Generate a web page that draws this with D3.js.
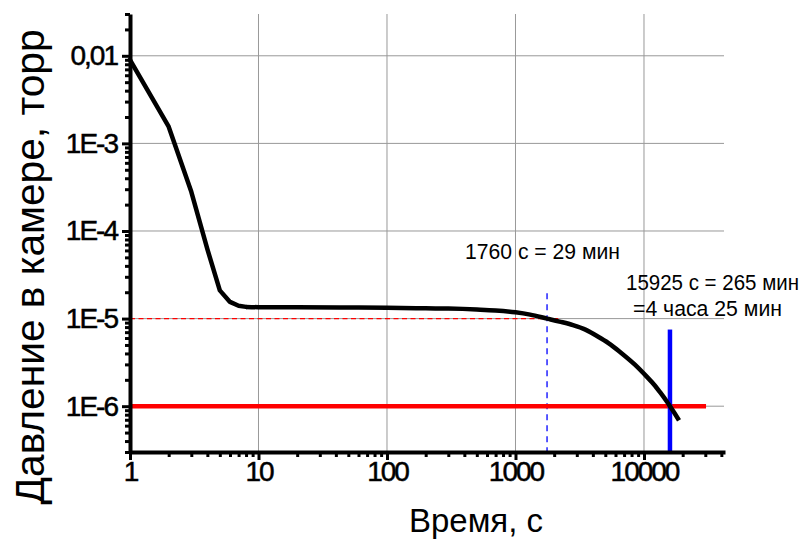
<!DOCTYPE html>
<html>
  <head>
    <meta charset="utf-8">
    <script src="https://cdn.jsdelivr.net/npm/d3@7/dist/d3.min.js"></script>
    <style>
      body { margin: 0; background: #fff; }
      text { font-family: "Liberation Sans", Arial, sans-serif; fill: #000; }
      .tick text { font-size: 28px; letter-spacing: -2px; stroke: #000; stroke-width: 0.5px; }
      .note { font-size: 21.5px; }
    </style>
  </head>
  <body>
    <script>
      // время, с
      var times = [1, 2, 3, 4, 5, 6, 7, 8, 10, 20, 50, 100, 200, 300, 500,
                   700, 1000, 1300, 1760, 2200, 2800, 3500, 4545, 5500, 6500,
                   8500, 10550, 12000, 13330, 15000, 15925, 17500, 18720];
      // давление, торр
      var pressure = [9e-3, 1.55e-3, 2.8e-4, 6.2e-5, 2.1e-5, 1.55e-5, 1.4e-5,
                      1.36e-5, 1.35e-5, 1.35e-5, 1.34e-5, 1.33e-5, 1.31e-5,
                      1.3e-5, 1.27e-5, 1.24e-5, 1.18e-5, 1.11e-5, 1.0e-5,
                      9.25e-6, 8.43e-6, 7.49e-6, 6.04e-6, 5.05e-6, 4.17e-6,
                      2.98e-6, 2.16e-6, 1.76e-6, 1.445e-6, 1.14e-6, 1.0e-6,
                      8.1e-7, 6.9e-7];
      // до 8 с точки соединены прямыми, дальше плавная кривая
      var splitIndex = 7;

      var xTicks = [1, 10, 100, 1000, 10000];
      var xTickLabels = ["1", "10", "100", "1000", "10000"];
      var yTicks = [1e-2, 1e-3, 1e-4, 1e-5, 1e-6];
      var yTickLabels = ["0,01", "1E-3", "1E-4", "1E-5", "1E-6"];

      // отметки: 1E-5 при 1760 с, 1E-6 при 15925 с
      var mark1 = {t: 1760, p: 1e-5, tEnd: 2150, pTop: 1.95e-5};
      var mark2 = {t: 15925, p: 1e-6, tEnd: 30400, pTop: 7.5e-6};

      var width = 808;
      var height = 544;

      var x = d3.scaleLog().domain([1, 4.27e4]).range([130, 725]);
      var y = d3.scaleLog().domain([3e-7, 3e-2]).range([452, 14]);

      var svg = d3.select("body").append("svg")
                  .attr("width", width)
                  .attr("height", height);

      // minor ticks
      var xMinor = [];
      for (var e = 0; e <= 4; e++) {
        for (var m = 2; m <= 9; m++) {
          var v = m * Math.pow(10, e);
          if (v <= x.domain()[1]) xMinor.push(v);
        }
      }
      var yMinor = [];
      for (var e = -7; e <= -2; e++) {
        for (var m = 2; m <= 9; m++) {
          var v = m * Math.pow(10, e);
          if (v >= y.domain()[0] && v <= y.domain()[1]) yMinor.push(v);
        }
      }

      // grid
      svg.append("g").selectAll("line")
         .data(xTicks.slice(1))
         .enter().append("line")
         .attr("x1", function(d) { return x(d); })
         .attr("x2", function(d) { return x(d); })
         .attr("y1", y.range()[1])
         .attr("y2", y.range()[0])
         .attr("stroke", "#999")
         .attr("stroke-width", 1);
      svg.append("g").selectAll("line")
         .data(yTicks)
         .enter().append("line")
         .attr("x1", x.range()[0])
         .attr("x2", x.range()[1] - 1)
         .attr("y1", function(d) { return y(d); })
         .attr("y2", function(d) { return y(d); })
         .attr("stroke", "#999")
         .attr("stroke-width", 1);

      // dashed guides at 1E-5
      svg.append("line")
         .attr("x1", x(1)).attr("x2", x(mark1.tEnd))
         .attr("y1", y(mark1.p)).attr("y2", y(mark1.p))
         .attr("stroke", "red").attr("stroke-width", 1.3)
         .attr("stroke-dasharray", "5,3.5");
      svg.append("line")
         .attr("x1", x(mark1.t)).attr("x2", x(mark1.t))
         .attr("y1", y(mark1.pTop)).attr("y2", y.range()[0])
         .attr("stroke", "blue").attr("stroke-width", 1.3)
         .attr("stroke-dasharray", "6,5");

      // thick lines at 1E-6
      svg.append("line")
         .attr("x1", x(1)).attr("x2", x(mark2.tEnd))
         .attr("y1", y(mark2.p)).attr("y2", y(mark2.p))
         .attr("stroke", "red").attr("stroke-width", 4.5);
      svg.append("line")
         .attr("x1", x(mark2.t)).attr("x2", x(mark2.t))
         .attr("y1", y(mark2.pTop)).attr("y2", y.range()[0])
         .attr("stroke", "blue").attr("stroke-width", 4.5);

      // pressure curve
      var points = times.map(function(t, i) { return [t, pressure[i]]; });
      var lineStraight = d3.line()
                           .x(function(d) { return x(d[0]); })
                           .y(function(d) { return y(d[1]); });
      var lineSmooth = d3.line()
                         .x(function(d) { return x(d[0]); })
                         .y(function(d) { return y(d[1]); })
                         .curve(d3.curveMonotoneX);
      svg.append("path")
         .attr("d", lineStraight(points.slice(0, splitIndex + 1)))
         .attr("fill", "none")
         .attr("stroke", "#000")
         .attr("stroke-width", 4.5)
         .attr("stroke-linejoin", "round")
         .attr("stroke-linecap", "round");
      svg.append("path")
         .attr("d", lineSmooth(points.slice(splitIndex)))
         .attr("fill", "none")
         .attr("stroke", "#000")
         .attr("stroke-width", 4.5)
         .attr("stroke-linejoin", "round");

      // axes
      svg.append("g")
         .attr("transform", "translate(0," + y.range()[0] + ")")
         .call(d3.axisBottom(x).tickValues(xTicks).tickSize(8).tickPadding(1)
                 .tickSizeOuter(0)
                 .tickFormat(function(d, i) { return xTickLabels[i]; }));
      svg.append("g")
         .attr("transform", "translate(0," + y.range()[0] + ")")
         .call(d3.axisBottom(x).tickValues(xMinor).tickSize(5)
                 .tickSizeOuter(0).tickFormat(""))
         .select(".domain").remove();

      svg.append("g")
         .attr("transform", "translate(" + x.range()[0] + ",0)")
         .call(d3.axisLeft(y).tickValues(yTicks).tickSize(8).tickPadding(5)
                 .tickSizeOuter(0)
                 .tickFormat(function(d, i) { return yTickLabels[i]; }));
      svg.append("g")
         .attr("transform", "translate(" + x.range()[0] + ",0)")
         .call(d3.axisLeft(y).tickValues(yMinor).tickSize(5)
                 .tickSizeOuter(0).tickFormat(""))
         .select(".domain").remove();

      svg.selectAll(".domain").attr("stroke", "#000").attr("stroke-width", 4);
      svg.selectAll(".tick line").attr("stroke", "#000").attr("stroke-width", 3);
      svg.selectAll(".tick text").attr("fill", "#000");

      // axis titles
      svg.append("text")
         .attr("transform", "translate(44,267) rotate(-90)")
         .attr("text-anchor", "middle")
         .attr("textLength", 475)
         .attr("lengthAdjust", "spacingAndGlyphs")
         .style("font-size", "40px")
         .text("Давление в камере, торр");
      svg.append("text")
         .attr("x", 476)
         .attr("y", 532)
         .attr("text-anchor", "middle")
         .attr("textLength", 134)
         .attr("lengthAdjust", "spacingAndGlyphs")
         .style("font-size", "33px")
         .text("Время, с");

      // annotations
      svg.append("text")
         .attr("class", "note")
         .attr("x", 465).attr("y", 259)
         .attr("textLength", 155)
         .attr("lengthAdjust", "spacingAndGlyphs")
         .text("1760 с = 29 мин");
      svg.append("text")
         .attr("class", "note")
         .attr("x", 626).attr("y", 290)
         .attr("textLength", 173)
         .attr("lengthAdjust", "spacingAndGlyphs")
         .text("15925 с = 265 мин");
      svg.append("text")
         .attr("class", "note")
         .attr("x", 633).attr("y", 316)
         .attr("textLength", 149)
         .attr("lengthAdjust", "spacingAndGlyphs")
         .text("=4 часа 25 мин");
    </script>
  </body>
</html>
